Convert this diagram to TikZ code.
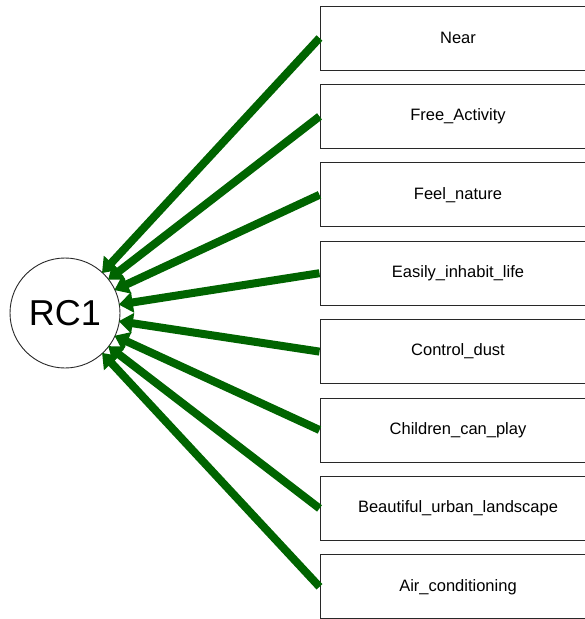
\documentclass[tikz,border=0pt]{standalone}
\usepackage{fontspec}
\setmainfont{Liberation Sans}
\usetikzlibrary{arrows.meta}
\definecolor{arrgreen}{RGB}{0,100,0}
\definecolor{edgegray}{RGB}{40,40,40}
\tikzset{
  itembox/.style={draw=edgegray, line width=1pt, fill=white, minimum width=276pt, minimum height=64pt, inner sep=0pt, font=\fontsize{16.5}{19}\selectfont},
  factor/.style={draw=edgegray, line width=0.9pt, circle, fill=white, minimum size=110pt, inner sep=0pt, font=\fontsize{36}{40}\selectfont},
  loading/.style={draw=arrgreen, line width=8pt, -{Triangle[length=14pt,width=20pt]}, shorten >=-1pt}
}
\begin{document}
\begin{tikzpicture}[x=1pt,y=-1pt]
\useasboundingbox (0,0) rectangle (585,619);
\clip (0,0) rectangle (585,619);
\node[factor] (rc) at (65,313) {RC1};
\foreach \i/\t in {0/Near,1/Free\_Activity,2/Feel\_nature,3/Easily\_inhabit\_life,4/Control\_dust,5/Children\_can\_play,6/Beautiful\_urban\_landscape,7/Air\_conditioning}{
  \node[itembox] (b\i) at (458,{38+78.4*\i}) {\t};
  \draw[loading] (b\i.west) -- (rc);
}
\end{tikzpicture}
\end{document}
